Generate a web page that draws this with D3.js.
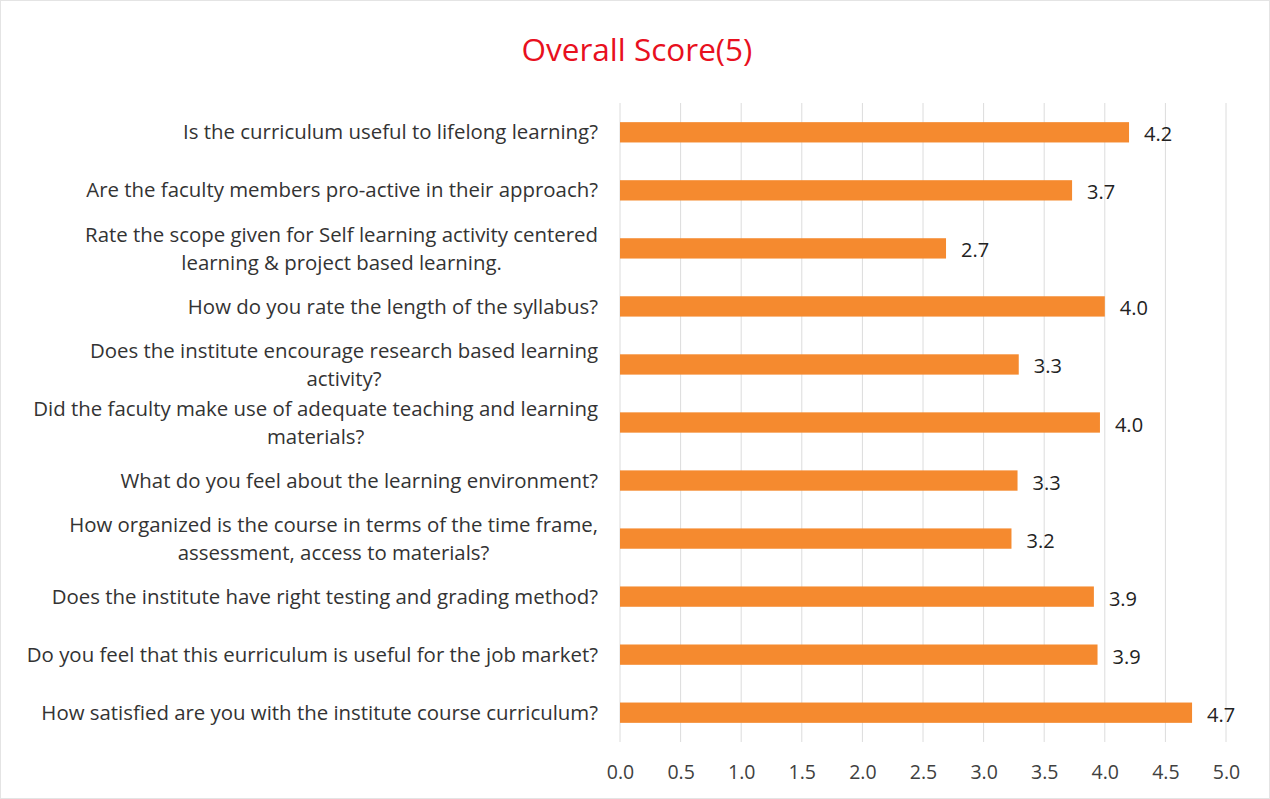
<!DOCTYPE html>
<html>
<head>
<meta charset="utf-8">
<script src="https://cdn.jsdelivr.net/npm/d3@7"></script>
<style>
  body { margin: 0; background: #fff; }
  svg { display: block; font-family: "Open Sans", Lato, sans-serif; }
</style>
</head>
<body>
<script>
'use strict';

// questions, top to bottom
const questions = [
  ["Is the curriculum useful to lifelong learning?"],
  ["Are the faculty members pro-active in their approach?"],
  ["Rate the scope given for Self learning activity centered", "learning & project based learning."],
  ["How do you rate the length of the syllabus?"],
  ["Does the institute encourage research based learning", "activity?"],
  ["Did the faculty make use of adequate teaching and learning", "materials?"],
  ["What do you feel about the learning environment?"],
  ["How organized is the course in terms of the time frame,", "assessment, access to materials?"],
  ["Does the institute have right testing and grading method?"],
  ["Do you feel that this eurriculum is useful for the job market?"],
  ["How satisfied are you with the institute course curriculum?"]
];
const scores = [4.2, 3.73, 2.69, 4.0, 3.29, 3.96, 3.28, 3.23, 3.91, 3.94, 4.72];
const xTicks = [0, 0.5, 1, 1.5, 2, 2.5, 3, 3.5, 4, 4.5, 5];

const width = 1270, height = 799;
const plotLeft = 620, plotRight = 1226, plotTop = 103, plotBottom = 742;

let svg = d3.select("body").append("svg")
    .attr("width", width)
    .attr("height", height);

svg.append("rect")
    .attr("x", 0.5).attr("y", 0.5)
    .attr("width", width - 1).attr("height", height - 1)
    .attr("fill", "#fff")
    .attr("stroke", "#e4e4e4");

let x = d3.scaleLinear().domain([0, 5]).range([plotLeft, plotRight]);
let y = d3.scaleBand()
    .domain(d3.range(questions.length))
    .range([plotTop, plotBottom])
    .paddingInner(0.65)
    .paddingOuter(0.33);

// gridlines
svg.append("g")
  .selectAll("line")
  .data(xTicks)
  .enter().append("line")
    .attr("x1", d => x(d)).attr("x2", d => x(d))
    .attr("y1", plotTop).attr("y2", plotBottom)
    .attr("stroke", "#dcdcdc")
    .attr("stroke-width", 1);

// x axis labels
let xAxis = svg.append("g")
    .attr("transform", "translate(0," + (plotBottom + 20) + ")")
    .call(d3.axisBottom(x).tickValues(xTicks).tickFormat(d3.format(".1f")).tickSize(0));
xAxis.select(".domain").remove();
xAxis.selectAll("text")
    .attr("font-family", "'Open Sans', Lato, sans-serif")
    .attr("font-size", 19.5)
    .attr("fill", "#404040");

// bars
svg.append("g")
  .selectAll("rect")
  .data(scores)
  .enter().append("rect")
    .attr("x", x(0))
    .attr("y", (d, i) => y(i))
    .attr("width", d => x(d) - x(0))
    .attr("height", y.bandwidth())
    .attr("fill", "#F58A2F");

// value labels
svg.append("g")
  .selectAll("text")
  .data(scores)
  .enter().append("text")
    .attr("x", d => x(d) + 15)
    .attr("y", (d, i) => y(i) + y.bandwidth() / 2 + 2)
    .attr("dy", "0.35em")
    .attr("font-size", 20)
    .attr("fill", "#222")
    .text(d => d3.format(".1f")(d));

// question labels (right aligned block, lines centered within block)
let qg = svg.append("g");
questions.forEach((lines, i) => {
  let cy = y(i) + y.bandwidth() / 2;
  let t = qg.append("text")
      .attr("font-size", 20.4)
      .attr("fill", "#333");
  lines.forEach((ln, j) => {
    t.append("tspan")
      .attr("x", 598)
      .attr("y", cy + (j - (lines.length - 1) / 2) * 28)
      .attr("dy", "0.35em")
      .text(ln);
  });
  // center short lines on the widest line
  let spans = t.selectAll("tspan").nodes();
  let widths = spans.map(s => s.getComputedTextLength());
  let maxW = d3.max(widths);
  spans.forEach((s, j) => {
    d3.select(s).attr("x", 598 - maxW + (maxW - widths[j]) / 2);
  });
});

// title
svg.append("text")
    .attr("x", 637)
    .attr("y", 50)
    .attr("dy", "0.35em")
    .attr("text-anchor", "middle")
    .attr("font-size", 31.5)
    .attr("fill", "#E8101E")
    .text("Overall Score(5)");
</script>
</body>
</html>
